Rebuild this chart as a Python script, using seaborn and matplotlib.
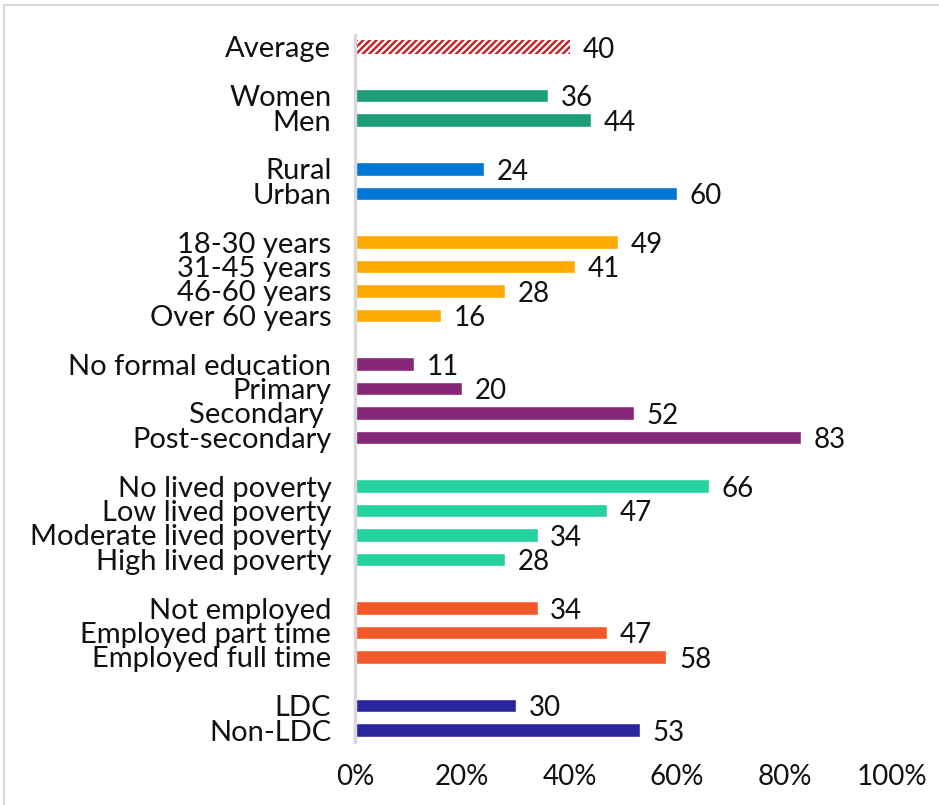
import matplotlib

matplotlib.use("Agg")

import matplotlib.pyplot as plt
import pandas as pd
import seaborn as sns
from matplotlib.patches import Rectangle

LABELS = [
    "Average",
    "Women", "Men",
    "Rural", "Urban",
    "18-30 years", "31-45 years", "46-60 years", "Over 60 years",
    "No formal education", "Primary", "Secondary ", "Post-secondary",
    "No lived poverty", "Low lived poverty", "Moderate lived poverty", "High lived poverty",
    "Not employed", "Employed part time", "Employed full time",
    "LDC", "Non-LDC",
]
VALUES = [40, 36, 44, 24, 60, 49, 41, 28, 16, 11, 20, 52, 83, 66, 47, 34, 28, 34, 47, 58, 30, 53]
GROUPS = (
    ["avg"] + ["gender"] * 2 + ["loc"] * 2 + ["age"] * 4 + ["edu"] * 4
    + ["pov"] * 4 + ["emp"] * 3 + ["ldc"] * 2
)
GROUP_COLORS = {
    "avg": "#C1272D",
    "gender": "#1E9E78",
    "loc": "#0077D5",
    "age": "#FFAA00",
    "edu": "#852676",
    "pov": "#26D1A0",
    "emp": "#F25829",
    "ldc": "#29269B",
}
TICKS = [0, 20, 40, 60, 80, 100]

df = pd.DataFrame({"label": LABELS, "value": VALUES, "group": GROUPS})

# empty slot between groups
order = []
gap = 0
for i, (lab, grp) in enumerate(zip(LABELS, GROUPS)):
    if i > 0 and grp != GROUPS[i - 1]:
        gap += 1
        order.append(" " * gap)
    order.append(lab)

sns.set_theme(style="white")
plt.rcParams["font.family"] = ["Lato", "DejaVu Sans"]
plt.rcParams["hatch.linewidth"] = 1.6
plt.rcParams["hatch.color"] = "white"

fig = plt.figure(figsize=(9.39, 8.05), dpi=100)
ax = fig.add_axes([0.378, 0.078, 0.572, 0.879])

sns.barplot(
    data=df,
    x="value",
    y="label",
    hue="group",
    order=order,
    palette=GROUP_COLORS,
    saturation=1,
    dodge=False,
    legend=False,
    width=0.55,
    ax=ax,
)

for patch in ax.patches:
    if abs(patch.get_y() + patch.get_height() / 2) < 0.01 and patch.get_width() > 0:
        patch.set_hatch("/////")
        patch.set_edgecolor("white")
        patch.set_linewidth(0)

for cont in ax.containers:
    texts = ax.bar_label(cont, fmt="%d", padding=9, fontsize=20, color="#111111")
    for t in texts:
        t.xyann = (9, -2)

ax.set_xlim(0, 100)
ax.set_ylim(len(order) - 0.5, -0.5)
ax.set_xticks(TICKS, labels=[f"{t}%" for t in TICKS])
ax.set_xlabel("")
ax.set_ylabel("")
ax.tick_params(axis="x", labelsize=20, pad=16, length=0, colors="#111111")
ax.tick_params(axis="y", labelsize=21, pad=17, length=0, colors="#111111")
for side in ["top", "right", "bottom"]:
    ax.spines[side].set_visible(False)
ax.spines["left"].set_color("#D9D9D9")
ax.spines["left"].set_linewidth(2.5)

# chart area border
fig.patches.append(Rectangle((4 / 939, -0.1), 1.2, 1 - 5 / 805 + 0.1,
                             transform=fig.transFigure, fill=False,
                             edgecolor="#D9D9D9", linewidth=1.5))

fig.savefig("out.png", dpi=100)
